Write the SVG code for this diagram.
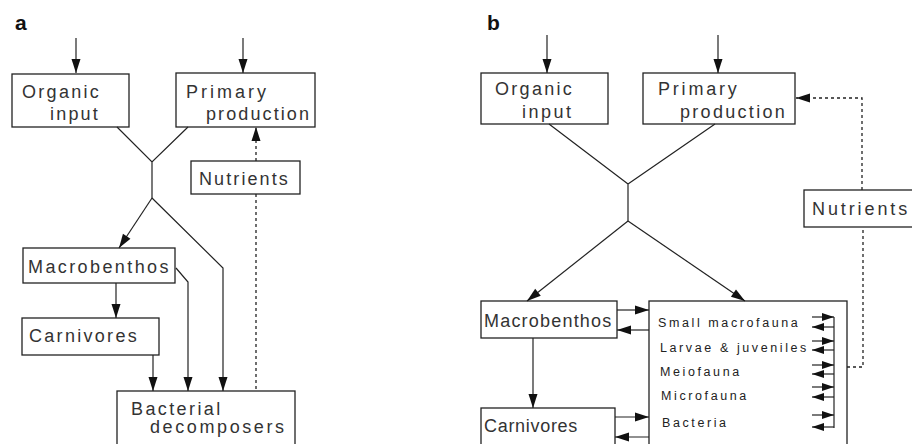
<svg xmlns="http://www.w3.org/2000/svg" width="912" height="444" viewBox="0 0 912 444">
<style>
.box{fill:#fff;stroke:#222;stroke-width:1.3}
.t{font-family:"Liberation Sans",Arial,sans-serif;font-size:18px;fill:#333}
.s{font-family:"Liberation Sans",Arial,sans-serif;font-size:12.5px;fill:#222;letter-spacing:2.6px}
.lbl{font-family:"Liberation Sans",Arial,sans-serif;font-size:21px;font-weight:bold;fill:#111}
.ln{fill:none;stroke:#222;stroke-width:1.2}
.dot{fill:none;stroke:#222;stroke-width:1.3;stroke-dasharray:3 3}
</style>
<defs>
<marker id="ah" markerUnits="userSpaceOnUse" markerWidth="16" markerHeight="10" refX="14" refY="4.5" orient="auto" overflow="visible"><path d="M0,0 L14,4.5 L0,9 z" fill="#111"/></marker>
<marker id="as" markerUnits="userSpaceOnUse" markerWidth="14" markerHeight="9" refX="12" refY="4" orient="auto" overflow="visible"><path d="M0,0 L12,4 L0,8 z" fill="#111"/></marker>
</defs>
<rect width="912" height="444" fill="#fff"/>
<text class="lbl" x="15" y="30">a</text>
<text class="lbl" x="487" y="30">b</text>

<!-- panel a nodes -->
<g id="a-organic"><rect class="box" x="12" y="74" width="117" height="53"/><text class="t" x="22" y="98" letter-spacing="2.3">Organic</text><text class="t" x="50" y="120" letter-spacing="2.2">input</text></g>
<g id="a-primary"><rect class="box" x="176" y="73" width="139" height="54"/><text class="t" x="186" y="98" letter-spacing="3">Primary</text><text class="t" x="206" y="120" letter-spacing="2.1">production</text></g>
<g id="a-nutrients"><rect class="box" x="191" y="161" width="109" height="33"/><text class="t" x="199" y="185" letter-spacing="2.1">Nutrients</text></g>
<g id="a-macrobenthos"><rect class="box" x="23" y="248" width="152" height="35"/><text class="t" x="28" y="273" letter-spacing="2.4">Macrobenthos</text></g>
<g id="a-carnivores"><rect class="box" x="22" y="318" width="137" height="37"/><text class="t" x="29" y="342" letter-spacing="2.3">Carnivores</text></g>
<g id="a-bacterial"><rect class="box" x="117" y="391" width="178" height="60"/><text class="t" x="131" y="415" letter-spacing="2.4">Bacterial</text><text class="t" x="150" y="433" letter-spacing="2.6">decomposers</text></g>

<!-- panel b nodes -->
<g id="b-organic"><rect class="box" x="481" y="73" width="127" height="51"/><text class="t" x="495" y="95" letter-spacing="2.3">Organic</text><text class="t" x="522" y="118" letter-spacing="2.5">input</text></g>
<g id="b-primary"><rect class="box" x="643" y="73" width="152" height="51"/><text class="t" x="658" y="95" letter-spacing="2.8">Primary</text><text class="t" x="680" y="118" letter-spacing="2.3">production</text></g>
<g id="b-nutrients"><rect class="box" x="804" y="190" width="120" height="37"/><text class="t" x="812" y="215" letter-spacing="2.9">Nutrients</text></g>
<g id="b-macrobenthos"><rect class="box" x="481" y="301" width="136" height="37"/><text class="t" x="484" y="327" letter-spacing="1.2">Macrobenthos</text></g>
<g id="b-carnivores"><rect class="box" x="481" y="408" width="134" height="45"/><text class="t" x="484" y="432" letter-spacing="0.7">Carnivores</text></g>
<g id="b-small">
<rect class="box" x="649" y="301" width="198" height="152"/>
<text class="s" x="658" y="327">Small macrofauna</text>
<text class="s" x="660" y="352">Larvae &amp; juveniles</text>
<text class="s" x="660" y="376">Meiofauna</text>
<text class="s" x="661" y="400">Microfauna</text>
<text class="s" x="662" y="427">Bacteria</text>
</g>

<g id="connectors">
<!-- panel a -->
<path class="ln" d="M76,38 V73" marker-end="url(#ah)"/>
<path class="ln" d="M243,38 V73" marker-end="url(#ah)"/>
<path class="ln" d="M117,127 L152,162 L188,127 M152,162 V198"/>
<path class="ln" d="M152,198 L119,248" marker-end="url(#ah)"/>
<path class="ln" d="M152,198 L223,268 V391" marker-end="url(#ah)"/>
<path class="ln" d="M116,283 V318" marker-end="url(#ah)"/>
<path class="ln" d="M153,355 V391" marker-end="url(#ah)"/>
<path class="ln" d="M176,268 L188,282 V391" marker-end="url(#ah)"/>
<path class="dot" d="M256,161 V127" marker-end="url(#ah)"/>
<path class="dot" d="M256,194 V391"/>
<!-- panel b -->
<path class="ln" d="M547,35 V73" marker-end="url(#ah)"/>
<path class="ln" d="M718,35 V73" marker-end="url(#ah)"/>
<path class="ln" d="M549,124 L628,184 L715,124 M628,184 V221"/>
<path class="ln" d="M628,221 L527,301" marker-end="url(#ah)"/>
<path class="ln" d="M628,221 L745,301" marker-end="url(#ah)"/>
<path class="ln" d="M533,338 V408" marker-end="url(#ah)"/>
<path class="ln" d="M617,310 H649" marker-end="url(#ah)"/>
<path class="ln" d="M649,330 H617" marker-end="url(#ah)"/>
<path class="ln" d="M615,417 H649" marker-end="url(#ah)"/>
<path class="ln" d="M649,437 H615" marker-end="url(#ah)"/>
<path class="ln" d="M834,317 V428"/>
<path class="ln" d="M812,317 H834" marker-end="url(#as)"/>
<path class="ln" d="M834,327 H812" marker-end="url(#as)"/>
<path class="ln" d="M812,341 H834" marker-end="url(#as)"/>
<path class="ln" d="M834,350 H812" marker-end="url(#as)"/>
<path class="ln" d="M812,365 H834" marker-end="url(#as)"/>
<path class="ln" d="M834,374 H812" marker-end="url(#as)"/>
<path class="ln" d="M812,387 H834" marker-end="url(#as)"/>
<path class="ln" d="M834,397 H812" marker-end="url(#as)"/>
<path class="ln" d="M812,415 H834" marker-end="url(#as)"/>
<path class="ln" d="M834,427 H812" marker-end="url(#as)"/>
<path class="dot" d="M847,367 H863 V227"/>
<path class="dot" d="M862,190 V98 H796" marker-end="url(#ah)"/>
</g>
</svg>
